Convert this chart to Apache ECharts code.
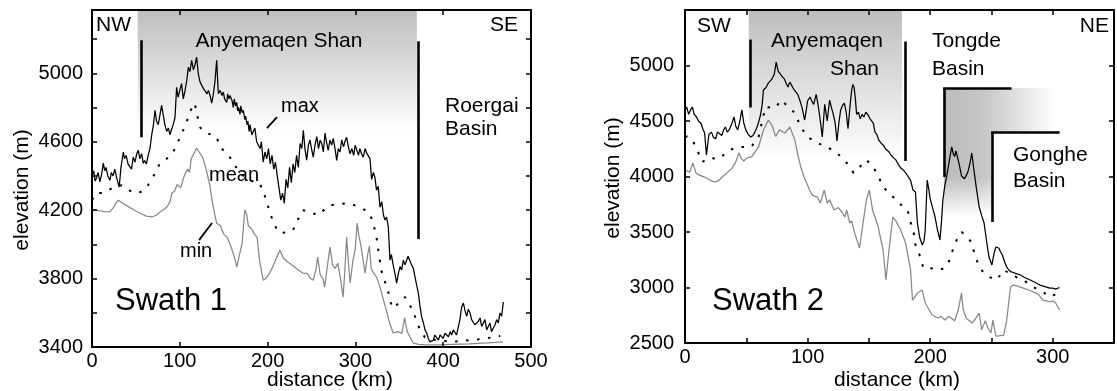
<!DOCTYPE html>
<html>
<head>
<meta charset="utf-8">
<script src="https://cdn.jsdelivr.net/npm/echarts@6/dist/echarts.min.js"></script>
<style>
html,body{margin:0;padding:0;background:#fff;}
#chart{width:1117px;height:391px;}
</style>
</head>
<body>
<div id="chart"></div>
<script>
// ---------- DATA (distance km, elevation m) ----------
const swath1Max = [[0,4400],[2,4430],[3.5,4370],[5.3,4390],[7,4420],[9,4365],[11,4410],[12.9,4475],[14.5,4430],[16,4450],[18,4400],[20.5,4375],[22,4420],[24,4400],[26,4440],[28,4390],[31,4335],[33,4450],[35.7,4540],[37,4500],[39,4520],[41,4470],[43,4475],[45,4440],[47,4510],[49,4480],[51,4530],[52.7,4550],[54.5,4500],[56.5,4530],[58.4,4475],[60,4490],[62,4470],[64,4520],[66,4560],[68,4640],[70,4700],[71.8,4784],[73.5,4720],[75.5,4700],[77.5,4760],[79.3,4813],[81,4760],[83,4700],[85,4660],[87,4680],[88.8,4640],[90.5,4670],[92.5,4700],[94.5,4740],[96.4,4918],[98,4860],[100,4900],[102,4940],[104,4850],[106,4900],[108,4960],[109.7,5035],[111.5,5010],[113.5,5076],[115.5,5020],[117.3,5050],[119.2,5094],[121,5000],[123,4950],[125,4960],[126.8,4912],[129,4920],[131,4880],[132.5,4900],[134.5,4870],[136.3,4826],[138,4870],[140,4950],[142,5076],[143.9,4880],[146,4900],[148,4870],[149.6,4890],[151,4850],[152,4860],[153.5,4830],[154.5,4880],[156,4850],[157.2,4871],[159.5,4840],[161,4800],[162,4850],[163.5,4810],[164.8,4830],[166,4780],[167,4800],[168.5,4760],[169.5,4810],[171,4770],[172.4,4784],[174,4730],[175,4750],[176.5,4700],[177.5,4720],[179,4660],[180,4700],[182,4640],[183.7,4630],[185.5,4680],[187.5,4600],[189.4,4610],[191.5,4560],[193,4600],[195,4480],[197,4540],[199,4500],[201,4560],[203,4470],[205,4520],[207,4440],[209,4480],[211,4400],[213,4330],[215,4258],[217,4300],[219,4240],[221,4380],[223,4330],[225,4450],[227,4360],[229,4470],[231,4420],[233,4520],[235,4450],[237,4590],[239,4560],[240.7,4667],[242.5,4560],[244.5,4492],[246.5,4580],[248.3,4610],[250,4560],[252,4510],[254,4580],[256,4630],[258,4560],[259.8,4610],[261.6,4590],[263.5,4540],[265.4,4650],[267,4600],[269,4550],[271,4610],[273,4580],[274.8,4620],[276.8,4560],[278.7,4490],[280.5,4560],[282.5,4540],[284.4,4610],[286.5,4570],[288,4600],[290,4626],[292,4570],[293.8,4530],[296,4560],[298,4520],[299.8,4580],[301.5,4570],[303.5,4520],[305,4560],[307,4530],[309,4510],[311,4560],[312.9,4533],[314.8,4540],[316.6,4500],[318.5,4380],[320.5,4420],[322.3,4390],[324,4317],[326,4340],[328,4217],[330,4250],[332,4170],[333.7,4142],[335.5,4160],[337.5,4100],[339.4,3908],[341,3940],[343,3880],[345,3830],[347,3774],[349,3830],[350.8,3870],[352.6,3850],[354.6,3908],[356.5,3880],[358.4,3890],[360,3930],[362,3920],[364,3880],[366,3860],[367.9,3810],[369.8,3760],[371.7,3715],[373.5,3640],[375.5,3575],[377.5,3540],[379.3,3500],[381.2,3482],[383,3450],[385,3430],[387,3430],[388.8,3440],[390.5,3470],[392.6,3460],[394.5,3440],[396.4,3470],[398.2,3480],[400,3450],[402,3480],[404,3488],[406,3460],[408,3490],[409.7,3470],[411.5,3500],[413.4,3500],[415.2,3470],[417.2,3460],[419,3560],[421,3634],[423,3657],[425,3610],[426.8,3580],[428.6,3620],[430.5,3600],[432.4,3560],[434.3,3558],[436,3530],[438,3520],[440,3550],[442,3570],[443.8,3520],[445.7,3530],[447.6,3560],[449.5,3500],[451.4,3520],[453.3,3540],[455,3490],[457,3510],[459,3530],[461,3560],[462.8,3540],[464.7,3599],[466.6,3580],[468.5,3663]];

const swath1Mean = [[0,4260],[5,4300],[12.5,4300],[20,4320],[27,4340],[34,4345],[41,4320],[48,4300],[55,4305],[62,4330],[70,4400],[77.4,4474],[85,4500],[92,4533],[97,4590],[102.5,4650],[108,4720],[113,4790],[117,4825],[120,4750],[123,4685],[127,4660],[131,4650],[137,4640],[142,4626],[146,4568],[152,4540],[157,4510],[163,4460],[168.6,4416],[175,4390],[182,4370],[191,4358],[197,4280],[203,4180],[208,4110],[214,4066],[221,4070],[229,4083],[235,4150],[240,4200],[248,4190],[257,4171],[264,4200],[271,4229],[280,4235],[290,4240],[298,4230],[305,4218],[311,4200],[317,4171],[321,4110],[324.6,4025],[327,3930],[330,3838],[333,3790],[336,3750],[339,3690],[341.7,3628],[344,3635],[347,3645],[352,3670],[356.5,3692],[361,3650],[365.6,3616],[369,3560],[373.6,3500],[379,3458],[386,3445],[393,3440],[402,3435],[411,3430],[420,3435],[430,3440],[440,3445],[450,3452],[458,3458],[465,3464]];

const swath1Min = [[0,4200],[5,4198],[10,4195],[15,4192],[20,4190],[24,4212],[27,4240],[30,4258],[35,4240],[40,4225],[45,4210],[50,4195],[55,4182],[62,4165],[68,4160],[73,4170],[78,4190],[82,4205],[85,4217],[89,4250],[91,4300],[94,4310],[97,4350],[101,4330],[105,4400],[109,4440],[111,4420],[113,4500],[117,4540],[119,4562],[122,4540],[126,4510],[130,4440],[134,4350],[137,4250],[140,4170],[142,4124],[146,4110],[150,4060],[154,4042],[158,3990],[162,3930],[165,3867],[168,3940],[171,4007],[174,4200],[176,4180],[178,4110],[182,4090],[185,4060],[188,4042],[191,3900],[195,3791],[198,3800],[202,3830],[206,3870],[210,3920],[214,3966],[218,3920],[222,3900],[225,3890],[230,3870],[235,3850],[240,3832],[245,3830],[249,3800],[252,3791],[255,3850],[257,3925],[260,3820],[263,3800],[265,3750],[268,3870],[271,3984],[274,3880],[277,3860],[280,3890],[283,3800],[286,3692],[288,3850],[290,4042],[292,3900],[294,3774],[297,3900],[300,3980],[302,4124],[304,4050],[306,4000],[309,3900],[311,3832],[314,3940],[316,3990],[318,3860],[321,3830],[324,3810],[328,3750],[332,3674],[336,3600],[339,3540],[343,3482],[348,3490],[353,3480],[356,3570],[359,3490],[362,3460],[366,3423],[372,3415],[380,3412],[393,3412],[410,3415],[430,3418],[450,3424],[468,3430]];

const swath2Max = [[0,4600],[1.3,4626],[3,4560],[4.5,4600],[6,4626],[7.5,4560],[9.4,4536],[11,4500],[13,4480],[14.5,4430],[16,4392],[17.5,4194],[19.5,4380],[21.6,4400],[23.3,4350],[25,4340],[26.5,4400],[28,4410],[30,4370],[31.5,4420],[33,4446],[34.5,4400],[36,4420],[38,4470],[40,4536],[41.5,4450],[43,4420],[44.8,4500],[46.4,4600],[48,4480],[49.6,4420],[51.5,4380],[53.6,4356],[55.5,4370],[57,4400],[59,4450],[61.6,4554],[63,4650],[64,4780],[66,4800],[68,4842],[69.5,4830],[71,4880],[72.8,4920],[74.4,5030],[76,4950],[77.6,4932],[79.3,4900],[81,4880],[82.5,4840],[84,4806],[85.5,4850],[87,4840],[88.5,4790],[90,4806],[92,4740],[93.6,4689],[95.5,4620],[97.6,4509],[99,4600],[100,4680],[102,4716],[103.5,4680],[105,4650],[107,4740],[108.5,4650],[110,4536],[112,4356],[114,4650],[116,4500],[118,4689],[119.5,4620],[121,4560],[122.5,4480],[124,4320],[125.5,4480],[127,4600],[128.5,4640],[130,4662],[131.5,4580],[133,4430],[134.5,4620],[136,4779],[137,4830],[138,4800],[139,4700],[140,4560],[141.5,4580],[143,4520],[144.5,4560],[146,4536],[147.5,4580],[149,4560],[151,4520],[153.6,4480],[155,4400],[156.5,4380],[158,4329],[160,4300],[162,4280],[163.5,4250],[165,4240],[166.5,4220],[168,4194],[170,4170],[172,4150],[174,4110],[176,4077],[178,4060],[180,4032],[182,4000],[184,3968],[186,3878],[188,3860],[189.6,3581],[191.5,3450],[193.6,3383],[195,3420],[196,3518],[197.6,3968],[199,3880],[200,3800],[202,3720],[204,3635],[206,3520],[208,3428],[209.3,3600],[210.4,3788],[212,3920],[213.5,4000],[215,4100],[216.5,4200],[217.6,4266],[219,4200],[220,4180],[221,4230],[222,4240],[223.5,4120],[225.6,4005],[227,4020],[228,3980],[229.5,4010],[231,4050],[232.5,4120],[234,4212],[235.8,4050],[237.6,3905],[239,3800],[240,3725],[242,3650],[244,3581],[246,3420],[248,3275],[250.4,3203],[252,3300],[253.6,3365],[255,3380],[256,3356],[257.5,3320],[259,3290],[260.8,3230],[262.4,3185],[264,3160],[266,3140],[268,3135],[270,3125],[273.6,3113],[277,3090],[281.6,3068],[285,3050],[289.6,3022],[293,3010],[297.6,2995],[300,2995],[302.4,2986],[304,3000],[305.6,3000]];

const swath2Mean = [[0,4360],[3,4360],[6,4329],[10,4239],[14,4131],[20,4167],[28,4160],[36,4239],[44,4266],[54,4266],[60,4356],[63,4500],[65.6,4626],[70,4620],[73.6,4617],[78.4,4689],[84,4630],[89.6,4572],[94.4,4446],[100,4356],[108,4302],[116,4266],[124,4212],[132,4122],[137.6,4032],[142,4080],[148,4150],[153.6,4086],[158,3995],[162,3900],[166,3860],[174.4,3761],[181.6,3698],[184,3590],[186.6,3491],[188,3383],[192,3275],[194.4,3176],[199,3170],[204,3176],[208,3160],[212,3176],[216,3248],[218.4,3338],[221.6,3428],[225.6,3500],[229,3470],[233.6,3410],[236,3311],[240,3185],[244,3130],[248,3095],[254.4,3068],[260,3158],[266,3120],[271,3090],[276,3068],[284,3005],[292,2959],[298.4,2914],[304,2950]];

const swath2Min = [[0,4059],[1.6,4059],[4,4040],[6.4,4122],[9,4030],[12,4010],[16,3995],[20,3970],[24,3950],[27,3960],[30.4,3995],[34,4030],[38.4,4077],[41,4120],[44,4212],[46,4160],[48,4140],[51,4170],[54.4,4176],[57,4220],[60,4266],[64,4419],[68,4509],[71,4460],[74,4360],[77,4420],[81.6,4392],[85.6,4446],[89.6,4329],[92,4200],[94.4,4086],[97,4000],[100,3923],[101.6,3878],[104,3830],[108,3815],[110.4,3761],[113.6,3878],[116,3760],[118,3790],[121.6,3698],[125,3720],[128,3680],[130.4,3635],[132,3698],[134.4,3581],[136,3600],[138.4,3491],[140,3491],[142.4,3356],[145.6,3608],[148,3788],[150.4,3878],[153,3700],[157.6,3545],[161.6,3338],[164,3068],[166.4,3338],[169.6,3635],[172,3600],[176,3518],[180,3401],[184,3158],[185.6,2887],[189.6,2950],[193.6,2977],[196,2860],[201.6,2752],[206.4,2725],[209,2740],[212,2707],[215,2740],[220,2700],[223,2800],[225.6,2950],[227,2800],[229.6,2720],[234.4,2680],[237,2720],[240,2770],[242,2620],[245,2700],[247,2640],[249.6,2590],[251.2,2707],[253.6,2563],[256,2565],[260,2572],[262.4,2700],[265.6,3005],[268,3022],[272,3010],[276,2995],[281,2975],[286.4,2950],[289,2930],[292,2887],[295,2880],[297.6,2869],[300,2880],[302.4,2860],[304,2850],[305.6,2797]];

// axis ranges / ticks
const swath1X = {min: 0, max: 500, step: 100};
const swath1Y = {min: 3400, max: 5370, step: 200, labelStep: 400, labelMax: 5000};
const swath2X = {min: 0, max: 350, step: 50, labelStep: 100, labelMax: 300};
const swath2Y = {min: 2500, max: 5500, step: 500, labelMax: 5000};

// annotation geometry in data coordinates
const swath1Bars = [[[55.8,5193],[55.8,4626]], [[371.3,5187],[371.3,4031]]];
const swath1Leaders = [[[199.3,4680],[210.7,4744]], [[121.9,4025],[136.7,4125]]];
const swath1Shade = [[52,5370],[370,4660]];
const swath2Bars = [[[53.6,5234],[53.6,4622]], [[180,5216],[180,4140]],
  [[211.2,4797],[211.2,3995]], [[210.6,4797],[266.4,4797]],
  [[250.4,4401],[250.4,3590]], [[249.8,4401],[305.6,4401]]];
const swath2Shade = [[52,5500],[177,4150]];
const tongdeShade = [[211.2,4797],[303,3650]];
const tongdeFade = [[211.2,3990],[250.4,3640]];
const gongheBlank = [[250.4,4401],[350,3600]];

// ---------- CHART ----------
const FONT = '"Liberation Sans", Arial, Helvetica, sans-serif';
const chart = echarts.init(document.getElementById('chart'), null, {renderer: 'canvas'});
const G = echarts.graphic;
const vGrad = () => new G.LinearGradient(0,0,0,1,[{offset:0,color:'#bdbdbd'},{offset:0.5,color:'#dedede'},{offset:1,color:'#ffffff'}]);
const hGrad = () => new G.LinearGradient(0,0,1,0,[{offset:0,color:'#bcbcbc'},{offset:0.35,color:'#c6c6c6'},{offset:1,color:'#ffffff'}]);
const fadeGrad = () => new G.LinearGradient(0,0,0,1,[{offset:0,color:'rgba(255,255,255,0)'},{offset:1,color:'rgba(255,255,255,1)'}]);

function axisBase(extra) {
  return Object.assign({
    type: 'value', z: 10,
    axisLine: {show: true, onZero: false, lineStyle: {color: '#000', width: 2}},
    axisTick: {show: true, inside: true, length: 5, lineStyle: {color: '#000', width: 1.5}},
    splitLine: {show: false},
    axisLabel: {show: false}
  }, extra);
}
const lbl = (fmt, margin) => ({show: true, color: '#000', fontSize: 20, fontFamily: FONT, margin: margin, formatter: fmt});

function area(xi, rect, color, z) {
  return {type: 'line', xAxisIndex: xi, yAxisIndex: xi, data: [], z: z, silent: true,
    markArea: {silent: true, label: {show: false}, itemStyle: {color: color},
      data: [[{coord: rect[0]}, {coord: rect[1]}]]}};
}
function segs(xi, list, width) {
  return {type: 'line', xAxisIndex: xi, yAxisIndex: xi, data: [], z: 6, silent: true,
    markLine: {silent: true, symbol: ['none','none'], label: {show: false}, animation: false,
      lineStyle: {color: '#000', width: width, type: 'solid', cap: 'butt'},
      emphasis: {disabled: true},
      data: list.map(s => [{coord: s[0]}, {coord: s[1]}])}};
}
function prof(xi, data, kind) {
  const ls = kind === 'max' ? {color: '#000', width: 1.25}
           : kind === 'min' ? {color: '#888888', width: 1.25}
           : {color: '#000', width: 2, type: [2.5, 8.5]};
  return {type: 'line', xAxisIndex: xi, yAxisIndex: xi, data: data, z: 5,
    showSymbol: false, symbol: 'none', silent: true, lineStyle: ls};
}
function txt(x, y, s, size, align, rot) {
  return {type: 'text', x: x, y: y, rotation: rot || 0, z: 50, silent: true,
    style: {text: s, fill: '#000', font: size + 'px ' + FONT,
      textAlign: align || 'left', align: align || 'left',
      textVerticalAlign: 'middle', verticalAlign: 'middle'}};
}

const option = {
  animation: false,
  backgroundColor: '#fff',
  grid: [
    {left: 92, top: 10, width: 439, height: 337, show: false},
    {left: 685, top: 10, width: 437.5, height: 333, show: false}
  ],
  xAxis: [
    axisBase({gridIndex: 0, position: 'bottom', min: swath1X.min, max: swath1X.max, interval: swath1X.step,
      axisLabel: lbl(v => String(v), 4)}),
    axisBase({gridIndex: 0, position: 'top', min: swath1X.min, max: swath1X.max, interval: swath1X.step}),
    axisBase({gridIndex: 1, position: 'bottom', min: swath2X.min, max: swath2X.max, interval: swath2X.step,
      axisLabel: lbl(v => (v % swath2X.labelStep === 0 && v <= swath2X.labelMax) ? String(v) : '', 4)}),
    axisBase({gridIndex: 1, position: 'top', min: swath2X.min, max: swath2X.max, interval: swath2X.step})
  ],
  yAxis: [
    axisBase({gridIndex: 0, position: 'left', min: swath1Y.min, max: swath1Y.max, interval: swath1Y.step,
      axisLabel: lbl(v => ((v - swath1Y.min) % swath1Y.labelStep === 0 && v <= swath1Y.labelMax) ? String(v) : '', 9)}),
    axisBase({gridIndex: 0, position: 'right', min: swath1Y.min, max: swath1Y.max, interval: swath1Y.step}),
    axisBase({gridIndex: 1, position: 'left', min: swath2Y.min, max: swath2Y.max, interval: swath2Y.step,
      axisLabel: lbl(v => (v <= swath2Y.labelMax) ? String(v) : '', 11)}),
    axisBase({gridIndex: 1, position: 'right', min: swath2Y.min, max: swath2Y.max, interval: swath2Y.step})
  ],
  series: [
    area(0, swath1Shade, vGrad(), 1),
    area(2, swath2Shade, vGrad(), 1),
    area(2, tongdeShade, hGrad(), 1),
    area(2, tongdeFade, fadeGrad(), 2),
    area(2, gongheBlank, '#ffffff', 3),
    prof(0, swath1Min, 'min'), prof(0, swath1Mean, 'mean'), prof(0, swath1Max, 'max'),
    prof(2, swath2Min, 'min'), prof(2, swath2Mean, 'mean'), prof(2, swath2Max, 'max'),
    segs(0, swath1Bars, 2.6), segs(0, swath1Leaders, 1.8), segs(2, swath2Bars, 2.6)
  ],
  graphic: {elements: [
    txt(96, 25, 'NW', 21), txt(518, 25, 'SE', 21, 'right'),
    txt(279, 41, 'Anyemaqen Shan', 21, 'center'),
    txt(281, 106, 'max', 20), txt(209, 175, 'mean', 20), txt(180, 251, 'min', 20),
    txt(445, 106, 'Roergai', 21), txt(445, 129, 'Basin', 21),
    txt(115, 301, 'Swath 1', 31),
    txt(697, 26, 'SW', 21), txt(1109, 26, 'NE', 21, 'right'),
    txt(883, 41, 'Anyemaqen', 21, 'right'), txt(879, 69, 'Shan', 21, 'right'),
    txt(932, 41, 'Tongde', 21), txt(932, 69, 'Basin', 21),
    txt(1013, 155, 'Gonghe', 21), txt(1013, 181, 'Basin', 21),
    txt(712, 301, 'Swath 2', 31),
    txt(330, 380, 'distance (km)', 21, 'center'),
    txt(897, 380, 'distance (km)', 21, 'center'),
    txt(22, 190, 'elevation (m)', 21, 'center', Math.PI / 2),
    txt(613, 178, 'elevation (m)', 21, 'center', Math.PI / 2)
  ]}
};
chart.setOption(option);
</script>
</body>
</html>
